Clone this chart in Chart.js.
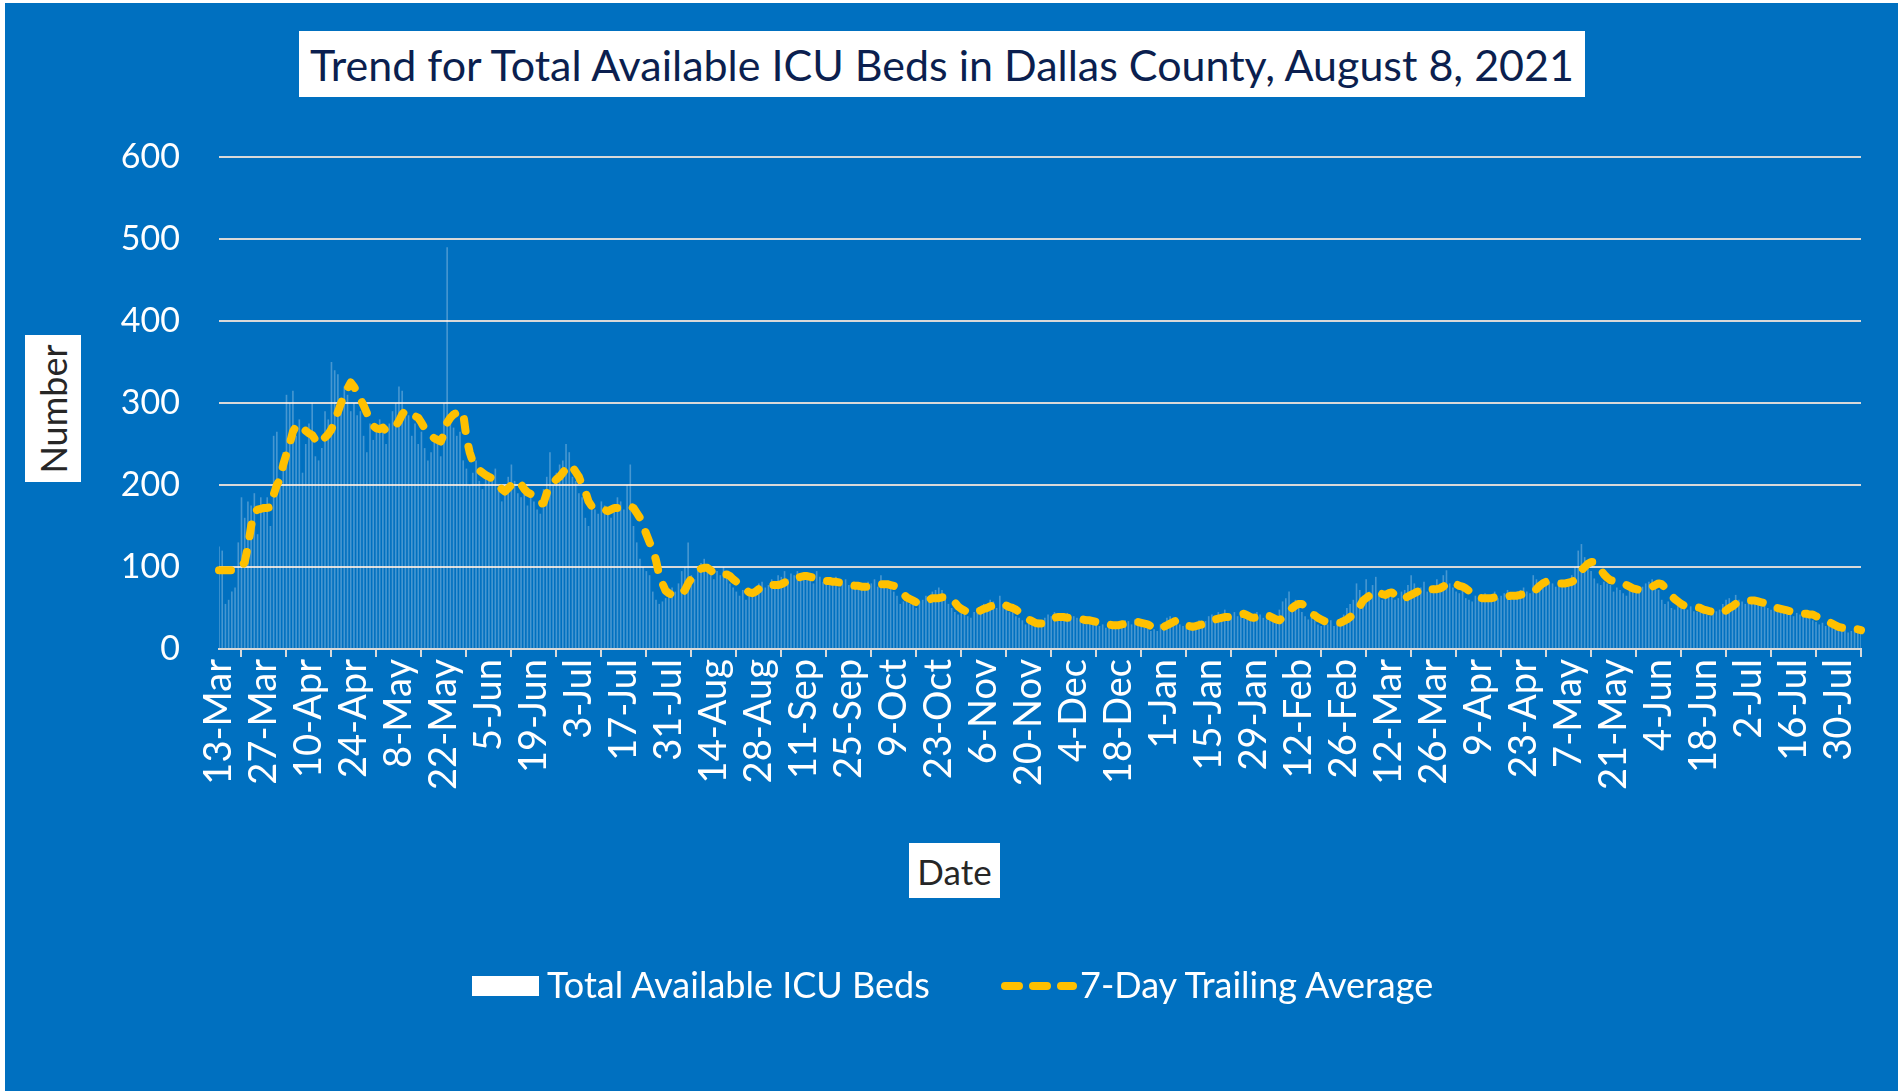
<!DOCTYPE html>
<html><head><meta charset="utf-8">
<script src="https://cdn.jsdelivr.net/npm/chart.js@4.4.1/dist/chart.umd.min.js"></script>
<style>
html,body{margin:0;padding:0;width:1898px;height:1091px;overflow:hidden;background:#ffffff;}
#frame{position:absolute;left:5px;top:3px;width:1893px;height:1088px;background:#0070C0;}
#c{position:absolute;left:0;top:0;}
.box{position:absolute;background:#fff;font-family:Lato,'Open Sans',sans-serif;display:flex;align-items:center;justify-content:center;white-space:nowrap;}
#title{left:299px;top:31px;width:1286px;height:66px;color:#0b1f4f;font-size:43px;}
#ytitle{left:25px;top:335px;width:56px;height:147px;}
#ytitle span{display:block;transform:rotate(-90deg);font-size:36px;color:#262626;}
#xtitle{left:909px;top:843px;width:91px;height:55px;font-size:35px;color:#262626;}
.lg{position:absolute;font-family:Lato,'Open Sans',sans-serif;font-size:36px;color:#fff;line-height:44px;top:962px;white-space:nowrap;}
#lgbox{position:absolute;left:472px;top:976px;width:67px;height:20px;background:#fff;}
#lgline{position:absolute;left:1001px;top:980px;}
</style></head>
<body>
<div id="frame"></div>
<canvas id="c" width="1898" height="1091"></canvas>
<div class="box" id="title">Trend for Total Available ICU Beds in Dallas County, August 8, 2021</div>
<div class="box" id="ytitle"><span>Number</span></div>
<div class="box" id="xtitle">Date</div>
<div id="lgbox"></div>
<div class="lg" style="left:547px">Total Available ICU Beds</div>
<svg id="lgline" width="76" height="12"><line x1="4" y1="6" x2="72" y2="6" stroke="#FFC000" stroke-width="8" stroke-linecap="round" stroke-dasharray="14 14"/></svg>
<div class="lg" style="left:1080px">7-Day Trailing Average</div>
<script>
// Daily dates from 13-Mar-2020 (512 days)
const startDate = [2020, 2, 13];
const dayCount = 512;
const monthNames = ['Jan','Feb','Mar','Apr','May','Jun','Jul','Aug','Sep','Oct','Nov','Dec'];

// Total Available ICU Beds (daily)
const icuBeds = [
125,120,55,60,70,75,130,185,160,180,175,190,140,185,
170,185,150,260,265,200,240,310,300,315,260,280,215,250,
275,300,235,230,245,290,280,350,340,335,300,320,310,290,
300,285,290,260,240,275,255,270,280,265,250,275,290,300,
320,315,290,285,260,275,250,265,245,230,240,255,250,235,
300,490,280,270,260,265,230,220,200,215,230,205,195,210,
215,205,220,195,180,200,210,225,205,190,185,200,175,190,
180,170,165,195,210,240,200,215,225,230,250,240,210,205,
190,185,160,150,175,170,165,180,175,170,160,175,185,180,
170,200,225,150,130,110,100,95,90,70,60,55,58,62,
65,75,70,80,95,100,130,90,85,100,105,110,95,90,
85,95,90,100,88,80,75,70,65,72,60,70,66,75,
80,82,75,78,85,80,90,88,95,85,92,90,95,88,
92,85,90,80,95,88,82,85,80,78,88,75,80,85,
78,76,80,75,72,78,82,80,85,76,90,80,74,78,
70,65,55,58,60,55,62,50,58,60,65,62,70,72,
75,72,62,55,50,45,42,48,52,40,38,45,50,48,
55,52,60,58,50,65,55,48,45,52,40,38,35,30,
33,30,28,32,35,38,42,40,45,40,38,42,44,36,
40,38,35,32,30,34,36,33,28,30,26,28,30,32,
30,32,35,34,30,36,34,28,26,25,22,24,22,30,
32,38,40,36,35,30,28,26,28,30,32,35,30,34,
40,42,38,45,40,48,42,40,45,40,44,46,38,35,
40,45,42,38,36,40,38,35,48,58,62,70,55,60,
50,45,40,36,38,35,30,28,32,30,35,28,32,38,
42,50,55,60,80,72,65,85,70,78,88,65,60,70,
72,68,60,62,70,72,78,90,80,72,75,82,70,74,
78,85,80,90,96,80,75,70,68,72,62,60,58,65,
60,62,68,65,60,70,62,65,68,72,60,64,70,72,
75,70,68,90,85,80,82,78,82,80,76,84,80,78,
85,90,100,120,128,112,100,95,86,80,78,82,80,78,
70,75,72,68,65,72,78,70,75,76,80,82,85,78,
72,60,55,58,50,48,52,55,50,48,52,46,45,50,
45,42,40,44,46,48,55,60,62,58,66,60,58,55,
62,58,56,55,52,55,50,48,52,46,44,45,48,42,
40,44,42,45,40,38,35,33,30,32,28,30,26,24,
25,22,24,20,22,26,24,20
];

// 7-Day Trailing Average (daily)
const trailingAvg = [
96,96,96,96,96,96,96,100,106,125,150,167,170,171,
172,172,173,188,200,207,225,238,250,265,272,274,270,266,
263,261,255,250,254,258,262,268,278,289,300,310,318,325,
320,313,305,297,288,277,272,269,268,270,266,268,270,272,
278,286,291,290,287,284,282,276,269,264,260,257,255,253,
262,276,282,286,288,291,287,258,240,228,222,218,215,212,
210,208,206,200,195,192,196,200,204,205,201,195,191,189,
186,182,177,178,190,199,203,207,210,215,220,225,222,216,
210,200,192,180,174,173,172,172,170,168,170,172,172,172,
172,173,174,172,166,160,150,140,130,122,108,90,80,71,
68,66,66,66,67,72,80,86,92,96,98,99,99,96,
92,91,91,91,91,89,85,82,79,75,72,69,68,70,
73,76,78,78,78,78,78,79,81,83,85,86,87,88,
89,89,88,87,86,85,84,83,83,82,82,81,80,79,
78,78,77,77,76,76,76,77,78,78,79,79,79,78,
77,76,72,67,63,61,59,57,56,56,58,60,62,62,
62,63,63,63,62,57,52,49,47,45,44,44,45,47,
49,50,52,53,54,55,55,53,51,50,48,45,41,38,
36,34,32,31,31,32,34,36,38,39,39,39,38,38,
38,37,37,36,35,35,34,33,32,31,30,30,29,29,
29,30,31,32,33,33,33,32,31,30,28,26,24,25,
27,29,31,33,35,34,32,30,28,27,28,29,30,31,
33,35,36,37,38,39,39,40,40,41,42,43,41,39,
38,39,41,42,41,40,38,36,35,38,42,46,50,53,
55,55,52,47,43,41,38,36,34,33,32,32,32,32,
34,36,39,42,45,52,59,62,65,68,71,69,67,66,
68,69,66,62,61,62,64,66,68,70,72,74,74,73,
73,73,74,76,79,82,81,79,77,76,74,71,67,64,
63,62,62,62,62,63,64,64,64,64,65,65,65,66,
67,68,69,70,73,77,80,82,82,81,81,80,80,80,
81,82,84,90,96,100,104,106,106,104,97,91,87,84,
83,82,82,80,78,76,74,73,72,72,73,74,76,78,
80,79,75,70,65,61,58,55,53,52,51,51,51,50,
48,47,46,45,44,44,45,47,50,52,55,57,58,59,
59,59,59,58,57,56,55,53,52,50,49,48,47,46,
45,44,44,43,43,42,42,40,38,36,34,33,31,29,
27,26,25,24,24,24,24,23
];

const yTicks = {min: 0, max: 600, step: 100};
const labelEvery = 14;

const categories = [];
for (let i = 0; i < dayCount; i++) {
  const d = new Date(Date.UTC(startDate[0], startDate[1], startDate[2] + i));
  categories.push(d.getUTCDate() + '-' + monthNames[d.getUTCMonth()]);
}

new Chart(document.getElementById('c'), {
  data: {
    labels: categories,
    datasets: [
      {type: 'line', label: '7-Day Trailing Average', data: trailingAvg, borderColor: '#FFC000',
       borderWidth: 8, borderDash: [12, 16], borderCapStyle: 'round', borderJoinStyle: 'round',
       pointRadius: 0, tension: 0, order: 0},
      {type: 'bar', label: 'Total Available ICU Beds', data: icuBeds,
       backgroundColor: 'rgba(255,255,255,0.28)', barPercentage: 1, categoryPercentage: 0.5, order: 1}
    ]
  },
  options: {
    responsive: false, animation: false,
    layout: {padding: {left: 0, top: 157, right: 37, bottom: 0}},
    plugins: {legend: {display: false}, tooltip: {enabled: false}},
    scales: {
      x: {
        offset: false,
        grid: {drawOnChartArea: false, drawTicks: true, tickLength: 8, color: '#D9D9D9', lineWidth: 2},
        border: {color: '#D9D9D9', width: 2},
        ticks: {autoSkip: false, minRotation: 90, maxRotation: 90, color: '#ffffff', font: {family: 'Lato', size: 38}, padding: 2},
        afterBuildTicks: s => { s.ticks = s.ticks.filter(t => t.value % labelEvery === 0); },
        afterFit: s => { s.height = 1091 - 649; }
      },
      y: {
        min: yTicks.min, max: yTicks.max,
        ticks: {stepSize: yTicks.step, color: '#ffffff', font: {family: 'Lato', size: 34}, padding: 39},
        grid: {color: '#D9D9D9', lineWidth: 2, drawTicks: false},
        border: {display: false},
        afterFit: s => { s.width = 219; }
      }
    }
  }
});
</script>
</body></html>
